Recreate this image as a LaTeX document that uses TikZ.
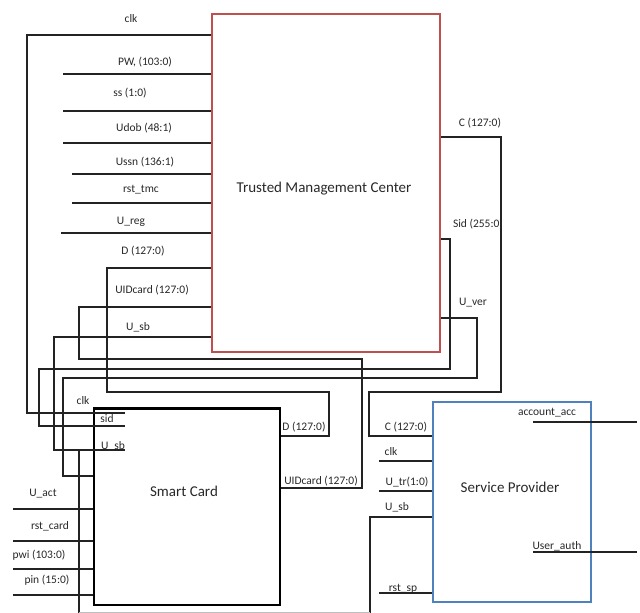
\documentclass[tikz,border=0pt]{standalone}
\usepackage{fontspec}
\setmainfont{Carlito}
\definecolor{wirecol}{RGB}{35,35,35}
\definecolor{txtcol}{RGB}{40,40,40}
\definecolor{tmcred}{RGB}{192,80,77}
\definecolor{spblue}{RGB}{79,129,189}
\begin{document}
\begin{tikzpicture}[x=1pt,y=-1pt,
  wire/.style={draw=wirecol,line width=1.1pt},
  faint/.style={draw=black!25,line width=0.8pt},
  lbl/.style={font=\fontsize{11.5}{13}\selectfont,text=txtcol,inner sep=0pt},
  ttl/.style={font=\fontsize{15}{18}\selectfont,text=txtcol,inner sep=0pt},
  blockbox/.style={inner sep=0pt,anchor=north west},
  tmcbox/.style={blockbox,draw=tmcred,line width=2pt,minimum width=228pt,minimum height=338pt},
  scbox/.style={blockbox,draw=black,line width=2.5pt,minimum width=186pt,minimum height=196.5pt},
  spbox/.style={blockbox,draw=spblue,line width=2pt,minimum width=158pt,minimum height=200pt}]
\useasboundingbox (0,0) rectangle (640,613);

% ---------- blocks ----------
\node[tmcbox] (tmc) at (211,13) {};
\node[scbox]  (sc)  at (92.5,407) {};
\node[spbox]  (sp)  at (432,401) {};
\node[ttl] (tmct) at (324,189) {Trusted Management Center};
\node[ttl] (sct)  at (184,491) {Smart Card};
\node[ttl] (spt)  at (510,487) {Service Provider};

% ---------- port coordinates ----------
% TMC left
\coordinate (t-clk)  at (tmc.west |- 0,35);
\coordinate (t-pw)   at (tmc.west |- 0,74);
\coordinate (t-ss)   at (tmc.west |- 0,111);
\coordinate (t-udob) at (tmc.west |- 0,143);
\coordinate (t-ussn) at (tmc.west |- 0,174);
\coordinate (t-rst)  at (tmc.west |- 0,203);
\coordinate (t-ureg) at (tmc.west |- 0,233);
\coordinate (t-d)    at (tmc.west |- 0,268);
\coordinate (t-uid)  at (tmc.west |- 0,307);
\coordinate (t-usb)  at (tmc.west |- 0,337);
% TMC right
\coordinate (t-c)    at (tmc.east |- 0,137);
\coordinate (t-sid)  at (tmc.east |- 0,239);
\coordinate (t-uver) at (tmc.east |- 0,318);
% Smart card
\coordinate (s-clk)  at (125,413);
\coordinate (s-sid)  at (125,426);
\coordinate (s-usb)  at (125,450);
\coordinate (s-uver) at (sc.west |- 0,476);
\coordinate (s-d)    at (sc.east |- 0,436);
\coordinate (s-uid)  at (sc.east |- 0,488);
\coordinate (s-uact) at (sc.west |- 0,509);
\coordinate (s-rst)  at (sc.west |- 0,541);
\coordinate (s-pwi)  at (sc.west |- 0,569);
\coordinate (s-pin)  at (sc.west |- 0,595);
% Service provider
\coordinate (p-c)    at (sp.west |- 0,436);
\coordinate (p-clk)  at (sp.west |- 0,461);
\coordinate (p-utr)  at (sp.west |- 0,491);
\coordinate (p-usb)  at (sp.west |- 0,517);
\coordinate (p-rst)  at (sp.west |- 0,593);
% free ends
\coordinate (e-pw)   at (63,74);
\coordinate (e-ss)   at (63,111);
\coordinate (e-udob) at (63,143);
\coordinate (e-ussn) at (72,174);
\coordinate (e-rst)  at (72,203);
\coordinate (e-ureg) at (61,233);
\coordinate (e-uact) at (13,509);
\coordinate (e-rstc) at (13,541);
\coordinate (e-pwi)  at (13,569);
\coordinate (e-pin)  at (13,595);
\coordinate (e-pclk) at (379,461);
\coordinate (e-putr) at (379,491);
\coordinate (e-prst) at (379,593);
\coordinate (e-usbA) at (79,613);
\coordinate (e-usbB) at (370,613);
\coordinate (a-acc)  at (533,422);
\coordinate (e-acc)  at (637,422);
\coordinate (a-auth) at (533,552);
\coordinate (e-auth) at (637,552);

% ---------- TMC inputs ----------
\draw[wire] (e-pw) -- (t-pw);
\draw[wire] (e-ss) -- (t-ss);
\draw[wire] (e-udob) -- (t-udob);
\draw[wire] (e-ussn) -- (t-ussn);
\draw[wire] (e-rst) -- (t-rst);
\draw[wire] (e-ureg) -- (t-ureg);

% ---------- TMC <-> Smart Card ----------
\draw[wire] (t-clk) -- (27,35) -- (27,413) -- (s-clk);
\draw[wire] (t-d) -- (107,268) -- (107,392) -- (329,392) -- (329,436) -- (s-d);
\draw[wire] (t-uid) -- (79,307) -- (79,359) -- (362,359) -- (362,488) -- (s-uid);
\draw[wire] (t-usb) -- (54,337) -- (54,450) -- (s-usb);
\draw[wire] (79,450) -- (e-usbA);
\draw[wire] (t-sid) -- (450,239) -- (450,369) -- (39,369) -- (39,426) -- (s-sid);
\draw[wire] (t-uver) -- (477,318) -- (477,378) -- (63,378) -- (63,476) -- (s-uver);

% ---------- TMC -> Service Provider ----------
\draw[wire] (t-c) -- (501,137) -- (501,392) -- (369,392) -- (369,436) -- (p-c);

% ---------- Smart card inputs ----------
\draw[wire] (e-uact) -- (s-uact);
\draw[wire] (e-rstc) -- (s-rst);
\draw[wire] (e-pwi) -- (s-pwi);
\draw[wire] (e-pin) -- (s-pin);

% ---------- Service provider ports ----------
\draw[wire] (e-pclk) -- (p-clk);
\draw[wire] (e-putr) -- (p-utr);
\draw[wire] (p-usb) -- (370,517) -- (e-usbB);
\draw[wire] (e-prst) -- (p-rst);
\draw[wire] (a-acc) -- (e-acc);
\draw[wire] (a-auth) -- (e-auth);
\draw[faint] (79,612) -- (370,612);

% ---------- labels ----------
\node[lbl] (l-tclk)  at (131,19)  {clk};
\node[lbl] (l-tpw)   at (145,62)  {PW, (103:0)};
\node[lbl] (l-tss)   at (130,93)  {ss (1:0)};
\node[lbl] (l-tudob) at (144,128) {Udob (48:1)};
\node[lbl] (l-tussn) at (145,162) {Ussn (136:1)};
\node[lbl] (l-trst)  at (141,190) {rst\_tmc};
\node[lbl] (l-tureg) at (131,222) {U\_reg};
\node[lbl] (l-td)    at (143,251) {D (127:0)};
\node[lbl] (l-tuid)  at (152,290) {UIDcard (127:0)};
\node[lbl] (l-tusb)  at (138,327) {U\_sb};
\node[lbl] (l-tc)    at (480,123) {C (127:0)};
\node[lbl] (l-tsid)  at (478,224) {Sid (255:0)};
\node[lbl] (l-tuver) at (473,303) {U\_ver};

\node[lbl] (l-sclk)  at (83,401)  {clk};
\node[lbl] (l-ssid)  at (107,419) {sid};
\node[lbl] (l-susb)  at (113,446) {U\_sb};
\node[lbl] (l-sd)    at (304,427) {D (127:0)};
\node[lbl] (l-suid)  at (321,481) {UIDcard (127:0)};
\node[lbl] (l-suact) at (43,494)  {U\_act};
\node[lbl] (l-srst)  at (50,526)  {rst\_card};
\node[lbl] (l-spwi)  at (39,555)  {pwi (103:0)};
\node[lbl] (l-spin)  at (47,580)  {pin (15:0)};

\node[lbl] (l-pc)    at (406,427) {C (127:0)};
\node[lbl] (l-pclk)  at (391,452) {clk};
\node[lbl] (l-putr)  at (407,482) {U\_tr(1:0)};
\node[lbl] (l-pusb)  at (397,507) {U\_sb};
\node[lbl] (l-prst)  at (403,589) {rst\_sp};
\node[lbl] (l-pacc)  at (547,413) {account\_acc};
\node[lbl] (l-pauth) at (557,546) {User\_auth};
\end{tikzpicture}
\end{document}
